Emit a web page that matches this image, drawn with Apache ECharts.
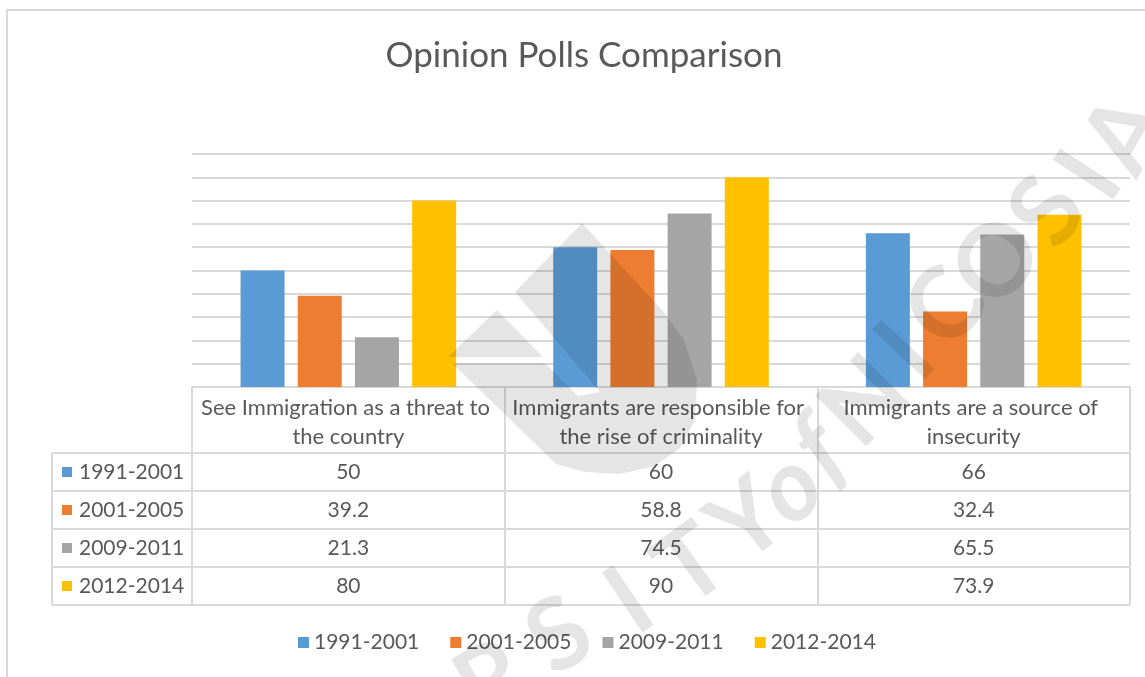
<!DOCTYPE html>
<html>
<head>
<meta charset="utf-8">
<title>Opinion Polls Comparison</title>
<script src="https://cdn.jsdelivr.net/npm/echarts@6/dist/echarts.min.js"></script>
<style>
  html, body { margin: 0; padding: 0; background: #ffffff; }
  #chart { width: 1145px; height: 677px; }
</style>
</head>
<body>
<div id="chart"></div>
<script>
// ---- data ----
const categories = [
  'See Immigration as a threat to the country',
  'Immigrants are responsible for the rise of criminality',
  'Immigrants are a source of insecurity'
];
const periods = ['1991-2001', '2001-2005', '2009-2011', '2012-2014'];
const v1991_2001 = [50, 60, 66];
const v2001_2005 = [39.2, 58.8, 32.4];
const v2009_2011 = [21.3, 74.5, 65.5];
const v2012_2014 = [80, 90, 73.9];
const yTicks = { min: 0, max: 100, step: 10 };

// ---- styling ----
const seriesValues = [v1991_2001, v2001_2005, v2009_2011, v2012_2014];
const colors = ['#5b9bd5', '#ed7d31', '#a5a5a5', '#ffc000'];
const FONT = 'Lato, "Open Sans", "Noto Sans", sans-serif';
const TEXT = '#595959';
const LINE = '#d9d9d9';
const PLOT = { left: 192, right: 15, top: 154, bottom: 290 };
const HEADER_H = 66;   // height of the category header row of the data table
const ROW_H = 38;      // height of each value row
const TABLE_LEFT = 52; // left edge of the series-name column
const CELL_FONT = 21;
const WATERMARK = 'rgba(0,0,0,0.10)';

const chart = echarts.init(document.getElementById('chart'), null, { renderer: 'canvas' });

chart.setOption({
  animation: false,
  backgroundColor: '#ffffff',
  color: colors,
  title: {
    text: 'Opinion Polls Comparison',
    left: 579,
    top: 33,
    textAlign: 'center',
    textStyle: { fontFamily: FONT, fontSize: 35, fontWeight: 'normal', color: TEXT }
  },
  legend: {
    data: periods,
    left: 298,
    top: 632,
    padding: 0,
    icon: 'rect',
    itemWidth: 11,
    itemHeight: 11,
    itemGap: 31,
    textStyle: { fontFamily: FONT, fontSize: CELL_FONT, color: TEXT }
  },
  grid: Object.assign({ outerBoundsMode: 'none', containLabel: false }, PLOT),
  xAxis: {
    type: 'category',
    data: categories,
    axisLine: { lineStyle: { color: LINE, width: 2 } },
    // category boundaries extended downwards form the vertical rules of the data table
    axisTick: { show: true, interval: 0, length: HEADER_H + periods.length * ROW_H, lineStyle: { color: LINE, width: 2 } },
    axisLabel: {
      interval: 0,
      margin: 6,
      width: 306,
      overflow: 'break',
      lineHeight: 29,
      verticalAlign: 'top',
      fontFamily: FONT,
      fontSize: 22,
      color: TEXT
    }
  },
  yAxis: {
    type: 'value',
    min: yTicks.min,
    max: yTicks.max,
    interval: yTicks.step,
    axisLabel: { show: false },
    axisLine: { show: false },
    axisTick: { show: false },
    splitLine: { lineStyle: { color: LINE, width: 2 } }
  },
  series: periods.map((name, i) => ({
    name: name,
    type: 'bar',
    data: seriesValues[i],
    barWidth: 44,
    barGap: '30%',
    itemStyle: { color: colors[i] }
  }))
});

// ---- data table, frame and watermark drawn as graphic elements ----
function buildGraphics() {
  const g = [];
  const gridBottom = chart.getHeight() - PLOT.bottom;
  const tableRight = chart.getWidth() - PLOT.right;
  const rowTop = gridBottom + HEADER_H;

  // chart frame
  g.push({ type: 'rect', silent: true, z: 0,
    shape: { x: 7, y: 10, width: 1200, height: 800 },
    style: { fill: 'none', stroke: LINE, lineWidth: 2 } });

  // horizontal rules of the table
  for (let k = 0; k <= periods.length; k++) {
    const y = rowTop + k * ROW_H;
    g.push({ type: 'line', silent: true, z: 5,
      shape: { x1: TABLE_LEFT, y1: y, x2: tableRight, y2: y },
      style: { stroke: LINE, lineWidth: 2 } });
  }
  // left edge of the series-name column
  g.push({ type: 'line', silent: true, z: 5,
    shape: { x1: TABLE_LEFT, y1: rowTop, x2: TABLE_LEFT, y2: rowTop + periods.length * ROW_H },
    style: { stroke: LINE, lineWidth: 2 } });

  periods.forEach((name, r) => {
    const cy = rowTop + r * ROW_H + ROW_H / 2;
    // legend key and series name
    g.push({ type: 'rect', silent: true, z: 6,
      shape: { x: 62, y: cy - 5, width: 10, height: 10 },
      style: { fill: colors[r] } });
    g.push({ type: 'text', silent: true, z: 6, x: 79, y: cy,
      style: { text: name, fontFamily: FONT, fontSize: CELL_FONT, fill: TEXT,
        align: 'left', verticalAlign: 'middle', textAlign: 'left', textVerticalAlign: 'middle' } });
    // values, centred on each category column
    seriesValues[r].forEach((v, c) => {
      const cx = chart.convertToPixel({ xAxisIndex: 0 }, c);
      g.push({ type: 'text', silent: true, z: 6, x: cx, y: cy,
        style: { text: String(v), fontFamily: FONT, fontSize: CELL_FONT, fill: TEXT,
          align: 'center', verticalAlign: 'middle', textAlign: 'center', textVerticalAlign: 'middle' } });
    });
  });

  // translucent university watermark: logo and lettering
  g.push({ type: 'polygon', silent: true, z: 50,
    shape: { points: [[448, 357], [497, 310], [543, 357]] },
    style: { fill: WATERMARK } });
  g.push({ type: 'polygon', silent: true, z: 50,
    shape: { points: [
      [582, 223], [662, 310], [684, 340], [697, 380], [695, 420], [680, 448],
      [655, 466], [620, 474], [585, 472], [556, 464], [452, 363], [545, 363],
      [578, 396], [600, 392], [515, 292]
    ] },
    style: { fill: WATERMARK } });

  const letters = [
    ['R', 492, 682, 30, false], ['S', 560, 636, 32, false], ['I', 630, 602, 34, false],
    ['T', 692, 566, 36, false], ['Y', 748, 522, 38, false], ['o', 790, 488, 40, true],
    ['f', 820, 450, 42, true], ['N', 865, 402, 45, false], ['I', 906, 352, 47, false],
    ['C', 946, 308, 49, false], ['O', 998, 262, 52, false], ['S', 1048, 212, 55, false],
    ['I', 1090, 176, 57, false], ['A', 1126, 134, 60, false]
  ];
  letters.forEach(([ch, x, y, deg, italic]) => {
    g.push({ type: 'text', silent: true, z: 50, x: x, y: y, rotation: deg * Math.PI / 180,
      style: { text: ch, fontFamily: FONT, fontSize: 100, fontWeight: 'bold',
        fontStyle: italic ? 'italic' : 'normal', fill: WATERMARK,
        align: 'center', verticalAlign: 'middle', textAlign: 'center', textVerticalAlign: 'middle' } });
  });
  return g;
}

chart.setOption({ graphic: { elements: buildGraphics() } });
</script>
</body>
</html>
